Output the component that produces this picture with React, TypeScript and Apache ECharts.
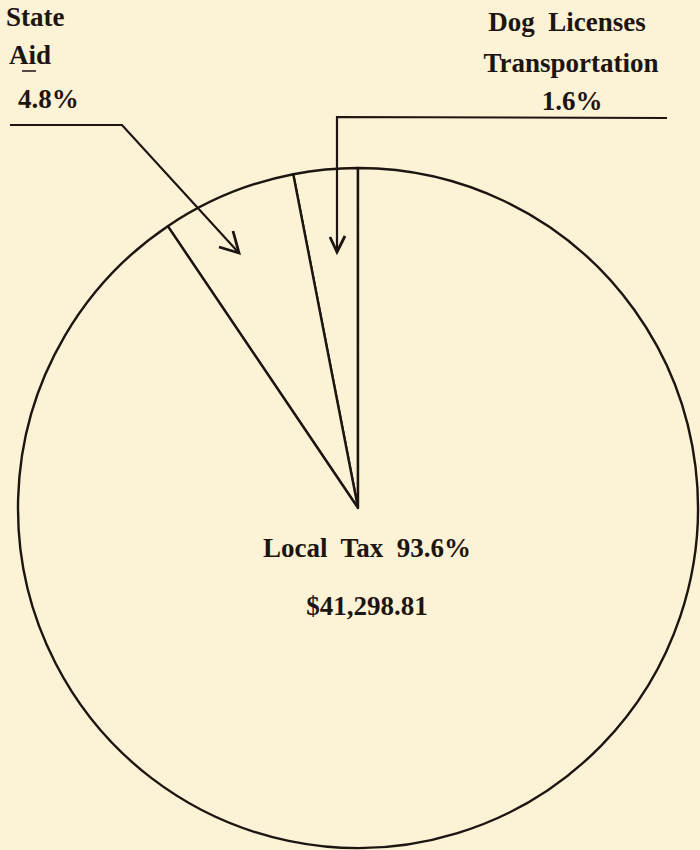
import React, { useEffect, useRef } from "react";
import * as echarts from "echarts";

// Slices, in the order they are drawn counter-clockwise from 12 o'clock
const categories = ["Dog Licenses Transportation", "State Aid", "Local Tax"];
// Percentages printed on the chart
const statedPercents = [1.6, 4.8, 93.6];
// Wedge sizes as they are actually drawn in the picture (percent of the circle)
const drawnShares = [3.05, 6.4, 90.55];
const localTaxAmount = "$41,298.81";

const BG = "#FCF2D5";
const INK = "#1c1511";
const FONT = "'Liberation Serif', 'Times New Roman', serif";

export default function App() {
  const ref = useRef<HTMLDivElement>(null);
  useEffect(() => {
    document.body.style.margin = "0";
    const chart = echarts.init(ref.current!, null, { renderer: "svg" });
    const txt = (text: string, x: number, y: number, align = "left") => ({
      type: "text",
      x,
      y,
      z: 100,
      style: {
        text,
        fill: INK,
        font: `bold 27px ${FONT}`,
        textAlign: align,
        textVerticalAlign: "middle",
      },
    });
    const ln = (points: number[][], w = 2.2) => ({
      type: "polyline",
      z: 100,
      shape: { points },
      style: { stroke: INK, lineWidth: w, fill: "none" },
    });
    chart.setOption({
      animation: false,
      backgroundColor: BG,
      series: [
        {
          type: "pie",
          center: [358, 508],
          radius: [0, 340],
          startAngle: 90,
          clockwise: false,
          z: 1,
          label: { show: false },
          labelLine: { show: false },
          emphasis: { disabled: true },
          itemStyle: { color: BG, borderColor: INK, borderWidth: 2.4 },
          data: categories.map((name, i) => ({ name, value: drawnShares[i] })),
        },
      ],
      graphic: [
        txt("State", 6, 17),
        txt("Aid", 9, 55),
        ln([[22, 71], [36, 71]], 1.5),
        txt(`${statedPercents[1]}%`, 18, 99),
        txt("Dog  Licenses", 567, 22, "center"),
        txt("Transportation", 571, 63, "center"),
        txt(`${statedPercents[0]}%`, 572, 101, "center"),
        txt(`Local  Tax  ${statedPercents[2]}%`, 367, 548, "center"),
        txt(localTaxAmount, 367, 606, "center"),
        // left leader + arrow
        ln([[10, 125], [122, 125], [239, 253]]),
        ln([[233, 231], [239, 253], [219, 247]], 2.8),
        // right leader + arrow
        ln([[667, 118], [337, 117], [337, 252]]),
        ln([[330, 237], [337, 252], [345, 236]], 2.8),
      ],
    });
    return () => chart.dispose();
  }, []);
  return <div ref={ref} style={{ width: 700, height: 850 }} />;
}
